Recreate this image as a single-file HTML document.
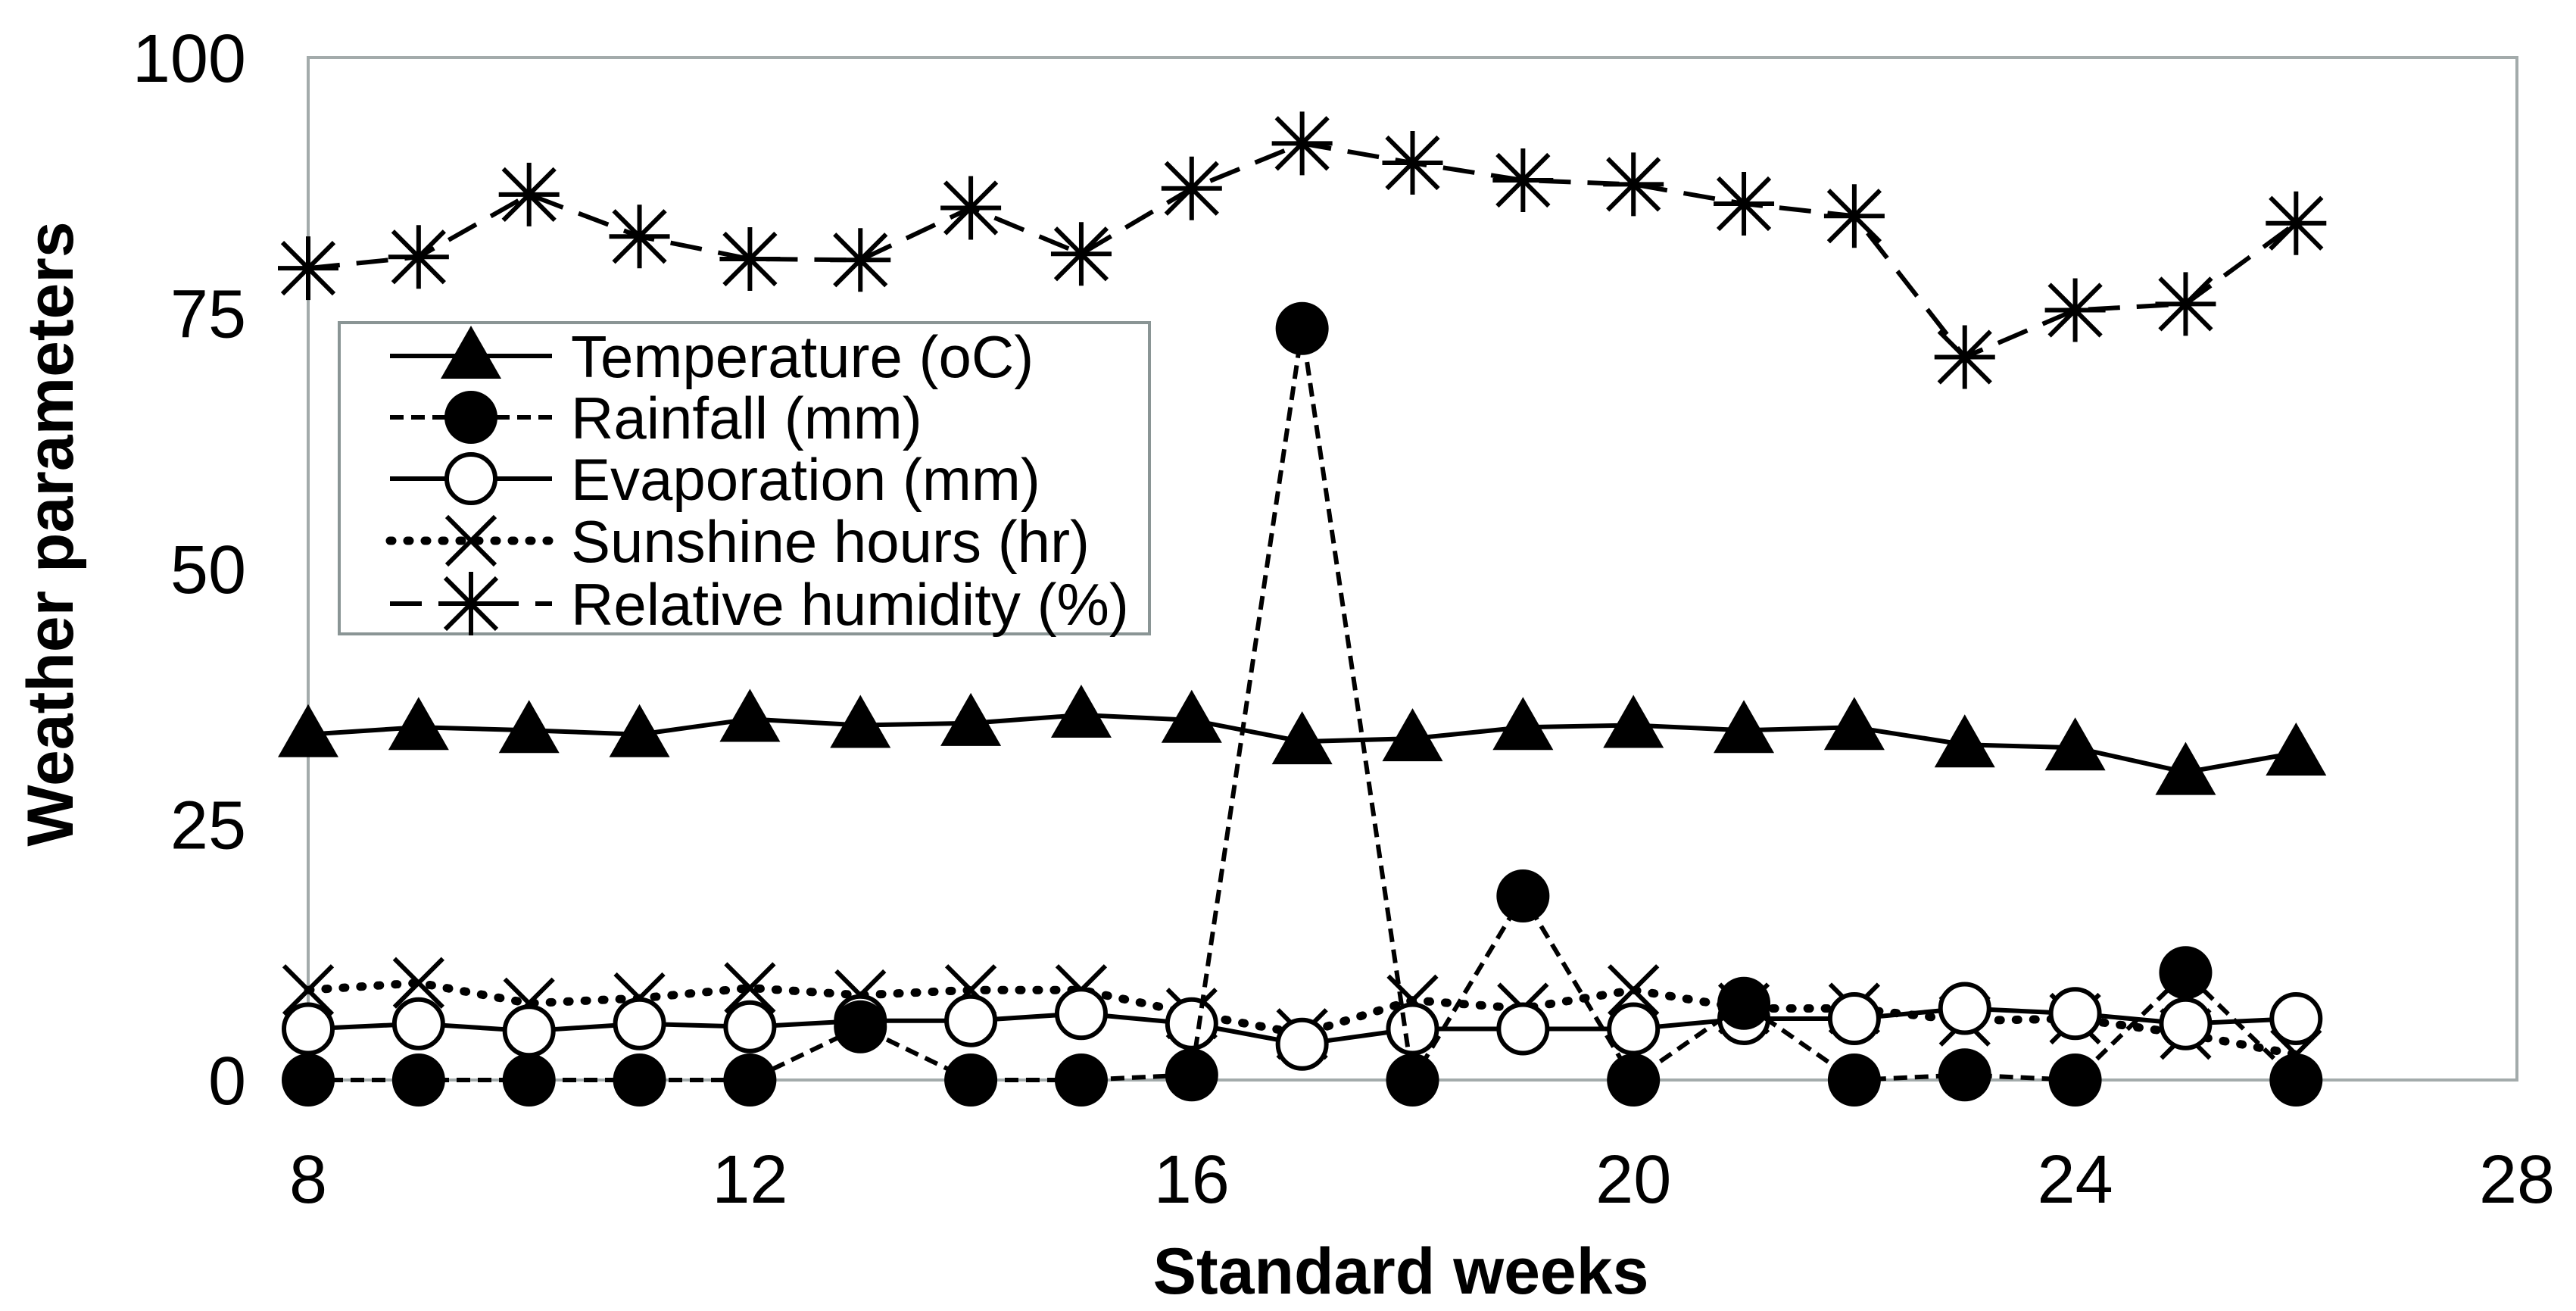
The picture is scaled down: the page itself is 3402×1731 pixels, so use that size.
<!DOCTYPE html>
<html><head><meta charset="utf-8"><style>
html,body{margin:0;padding:0;background:#fff;}
svg{display:block;font-family:"Liberation Sans",Arial,sans-serif;}
</style></head><body>
<svg id="chart" width="3402" height="1731" viewBox="0 0 3402 1731" xmlns="http://www.w3.org/2000/svg">
<rect x="407" y="76" width="2917" height="1350" fill="none" stroke="#a3abab" stroke-width="4"/>
<g id="yt"></g>
<g id="xt"></g>
<text x="1850" y="1708" font-size="86" font-weight="bold" text-anchor="middle">Standard weeks</text>
<text transform="translate(96,705) rotate(-90)" font-size="86" font-weight="bold" text-anchor="middle">Weather parameters</text>
<g id="series"></g>
<g id="legend">
<rect x="448" y="426" width="1070" height="411" fill="#fff" stroke="#8a9595" stroke-width="4"/>
</g>
</svg>
<script>
const weeks=[8,9,10,11,12,13,14,15,16,17,18,19,20,21,22,23,24,25,26];
const humidity=[79.4,80.5,86.6,82.5,80.3,80.2,85.3,80.8,87.2,91.6,89.7,88,87.6,85.7,84.5,70.7,75.3,75.9,83.8];
const temperature=[33.8,34.5,34.2,33.8,35.3,34.7,34.9,35.7,35.2,33.1,33.4,34.5,34.7,34.2,34.5,32.8,32.5,30.1,32];
const rainfall=[0,0,0,0,0,5.2,0,0,0.5,73.5,0,18,0,7.5,0,0.5,0,10.5,0];
const evaporation=[5,5.5,4.8,5.5,5.2,5.8,5.8,6.5,5.5,3.5,5,5,5,6,6,7,6.5,5.5,6];
const sunshine=[8.8,9.5,7.5,8,9,8.3,8.8,8.8,6.5,4.5,7.8,7,8.8,7,7,5.8,6,4.5,2.5];
const yTicks=[0,25,50,75,100];
const xTicks=[8,12,16,20,24,28];
const NS="http://www.w3.org/2000/svg";
const X=v=>407+(v-8)*(2917/20);
const Y=v=>1426-v*13.5;
function mk(tag,attrs,parent){const e=document.createElementNS(NS,tag);for(const k in attrs)e.setAttribute(k,attrs[k]);parent.appendChild(e);return e;}
const yt=document.getElementById('yt'),xt=document.getElementById('xt'),S=document.getElementById('series'),L=document.getElementById('legend');
yTicks.forEach(t=>{const e=mk('text',{x:325,y:Y(t)+32,'font-size':90,'text-anchor':'end'},yt);e.textContent=t;

});
xTicks.forEach(t=>{const e=mk('text',{x:X(t),y:1588,'font-size':90,'text-anchor':'middle'},xt);e.textContent=t;

});
function marker(type,cx,cy,g){
 if(type==='tri')mk('polygon',{points:`${cx},${cy-40} ${cx-40},${cy+30} ${cx+40},${cy+30}`,fill:'#000'},g);
 else if(type==='dot')mk('circle',{cx,cy,r:35,fill:'#000'},g);
 else if(type==='ring')mk('circle',{cx,cy,r:32,fill:'#fff',stroke:'#000','stroke-width':6},g);
 else if(type==='x')mk('path',{d:`M${cx-32},${cy-32}L${cx+32},${cy+32}M${cx-32},${cy+32}L${cx+32},${cy-32}`,stroke:'#000','stroke-width':6},g);
 else if(type==='star')mk('path',{d:`M${cx-34},${cy-34}L${cx+34},${cy+34}M${cx-34},${cy+34}L${cx+34},${cy-34}M${cx},${cy-42}L${cx},${cy+42}M${cx-40},${cy}L${cx+40},${cy}`,stroke:'#000','stroke-width':6},g);
}
const defs=[
 {name:'temperature',data:temperature,type:'tri',dash:'',label:'Temperature (oC)'},
 {name:'rainfall',data:rainfall,type:'dot',dash:'18,10',label:'Rainfall (mm)'},
 {name:'evaporation',data:evaporation,type:'ring',dash:'',label:'Evaporation (mm)'},
 {name:'sunshine',data:sunshine,type:'x',dash:'3,20',label:'Sunshine hours (hr)',w:11},
 {name:'humidity',data:humidity,type:'star',dash:'42,22',label:'Relative humidity (%)'}
];
const order=[4,3,2,1,0];
order.forEach(i=>{const d=defs[i];const g=mk('g',{},S);
 
 
 const pts=weeks.map((w,j)=>X(w)+','+Y(d.data[j])).join(' ');
 const ln=mk('polyline',{points:pts,fill:'none',stroke:'#000','stroke-width':d.w||6,'stroke-dasharray':d.dash,'stroke-linecap':d.w?'round':'butt'},g);
 
 
 weeks.forEach((w,j)=>marker(d.type,X(w),Y(d.data[j]),g));
});
defs.forEach((d,i)=>{const y=[470,551,632,714,797][i];const g=mk('g',{},L);
 
 
 mk('line',{x1:515,y1:y,x2:729,y2:y,stroke:'#000','stroke-width':d.w||6,'stroke-dasharray':d.dash,'stroke-linecap':d.w?'round':'butt'},g);
 marker(d.type,622,y,g);
 const t=mk('text',{x:754,y:y+28,'font-size':78},g);t.textContent=d.label;
});
</script>
</body></html>
